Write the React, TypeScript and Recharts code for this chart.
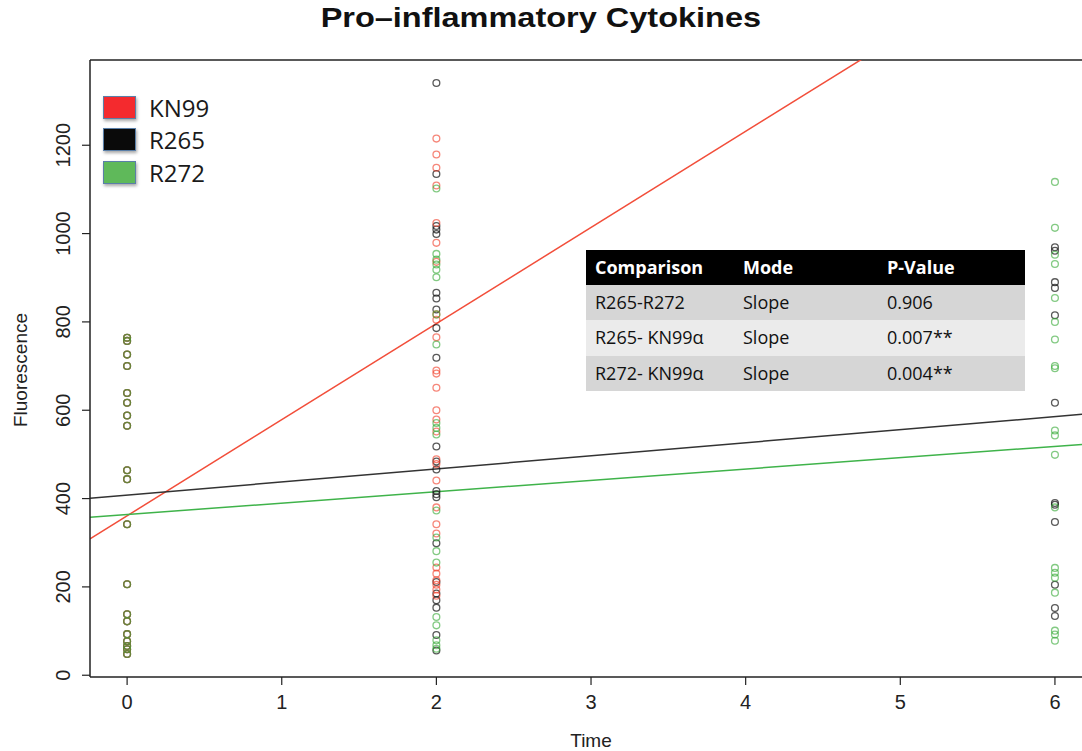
import React from 'react';
import { ReferenceLine, Scatter, ScatterChart, XAxis, YAxis } from 'recharts';

// strains, in legend order
const strains = ['KN99', 'R265', 'R272'];
const pointColors = ['rgba(240,62,40,0.62)', 'rgba(25,25,25,0.72)', 'rgba(55,170,55,0.62)'];
const lineColors = ['#f24e3a', '#333333', '#3fb34a'];
const legendColors = ['#f42a2e', '#0a0a0a', '#5fb95a'];
// drawing order: R265 underneath, then KN99, then R272
const drawOrder = [1, 0, 2];

// time 0 is the shared baseline for every strain
const baselineT0 = [764, 757, 726, 700, 639, 617, 588, 565, 464, 444, 342, 206, 138, 122, 93, 77, 66, 59, 48];

const kn99T2 = [
  1215, 1179, 1149, 1109, 1024, 979, 936, 817, 805, 765, 690, 683, 651, 600, 579, 552, 489, 478, 441, 380, 342,
  321, 244, 230, 215, 205, 194, 180,
];
const r265T2 = [1341, 1135, 1017, 1009, 999, 866, 853, 828, 786, 719, 518, 484, 466, 417, 410, 403, 299, 211, 185, 170, 153, 91, 56];
const r272T2 = [1102, 954, 941, 930, 918, 901, 817, 749, 571, 560, 545, 373, 312, 281, 255, 132, 113, 79, 68, 60];

const r265T6 = [969, 961, 890, 877, 815, 617, 390, 386, 347, 205, 152, 134];
const r272T6 = [1117, 1013, 952, 931, 854, 800, 760, 700, 695, 554, 543, 499, 380, 243, 232, 221, 187, 101, 92, 78];

// fitted lines
const fitIntercept = [361, 408, 364];
const fitSlope = [217.6, 29.6, 25.7];

const xTicks = [0, 1, 2, 3, 4, 5, 6];
const yTicks = [0, 200, 400, 600, 800, 1000, 1200];
const xDomain = [-0.24, 6.175];
const yDomain = [-4, 1393];

// p-value table
const tableHeader = ['Comparison', 'Mode', 'P-Value'];
const comparisons = ['R265-R272', 'R265- KN99\u03b1', 'R272- KN99\u03b1'];
const modes = ['Slope', 'Slope', 'Slope'];
const pValues = ['0.906', '0.007**', '0.004**'];

const pts = (t: number, values: number[]) => values.map((v) => ({ t, v }));

const seriesData = [
  [...pts(0, baselineT0), ...pts(2, kn99T2)],
  [...pts(0, baselineT0), ...pts(2, r265T2), ...pts(6, r265T6)],
  [...pts(0, baselineT0), ...pts(2, r272T2), ...pts(6, r272T6)],
];

const ring = (color: string) => (props: any) =>
  <circle cx={props.cx} cy={props.cy} r={3.4} fill="none" stroke={color} strokeWidth={1.3} />;

const YTick = (props: any) => {
  const { x, y, payload } = props;
  return (
    <text
      x={x}
      y={y}
      transform={`rotate(-90 ${x} ${y})`}
      textAnchor="middle"
      fontFamily="Liberation Sans, Arial, sans-serif"
      fontSize={20}
      fill="#222"
    >
      {payload.value}
    </text>
  );
};

const font = 'Liberation Sans, Arial, sans-serif';
const tableFont = '"Open Sans", "Noto Sans", sans-serif';
const colX = [9, 157, 301];
const rowBg = ['#d6d6d6', '#ebebeb', '#d6d6d6'];

const App: React.FC = () => {
  return (
    <div style={{ position: 'absolute', left: 0, top: 0, width: 1082, height: 751, background: '#fff' }}>
      <div style={{ position: 'absolute', left: 0, width: 1082, top: 2, textAlign: 'center' }}>
        <span
          style={{
            display: 'inline-block', transform: 'scaleX(1.16)', fontFamily: font, fontWeight: 'bold',
            fontSize: 28, color: '#111',
          }}
        >
          Pro–inflammatory Cytokines
        </span>
      </div>
      <ScatterChart width={1082} height={751} margin={{ top: 60, right: 0, bottom: 0, left: 30 }}>
        <XAxis
          type="number"
          dataKey="t"
          domain={xDomain}
          ticks={xTicks}
          allowDataOverflow
          height={74}
          tickSize={8}
          tickMargin={10}
          tick={{ fontFamily: font, fontSize: 20, fill: '#222' }}
          axisLine={{ stroke: '#222', strokeWidth: 1.5 }}
          tickLine={{ stroke: '#222', strokeWidth: 1.2 }}
        />
        <YAxis
          type="number"
          dataKey="v"
          domain={yDomain}
          ticks={yTicks}
          allowDataOverflow
          width={60}
          tickSize={8}
          tickMargin={12}
          tick={<YTick />}
          axisLine={{ stroke: '#222', strokeWidth: 1.5 }}
          tickLine={{ stroke: '#222', strokeWidth: 1.2 }}
        />
        <ReferenceLine y={yDomain[1]} stroke="#222" strokeWidth={1.5} ifOverflow="visible" />
        {drawOrder.map((i) => (
          <Scatter
            key={strains[i]}
            name={strains[i]}
            data={seriesData[i]}
            shape={ring(pointColors[i])}
            isAnimationActive={false}
          />
        ))}
        {strains.map((s, i) => (
          <ReferenceLine
            key={`fit-${s}`}
            segment={[
              { x: xDomain[0], y: fitIntercept[i] + fitSlope[i] * xDomain[0] },
              { x: xDomain[1], y: fitIntercept[i] + fitSlope[i] * xDomain[1] },
            ]}
            stroke={lineColors[i]}
            strokeWidth={1.5}
            ifOverflow="hidden"
          />
        ))}
      </ScatterChart>

      {/* axis titles */}
      <div
        style={{
          position: 'absolute', left: 21, top: 370, transform: 'translate(-50%, -50%) rotate(-90deg)',
          fontFamily: font, fontSize: 19, color: '#222', whiteSpace: 'nowrap',
        }}
      >
        Fluorescence
      </div>
      <div
        style={{
          position: 'absolute', left: 591, top: 741, transform: 'translate(-50%, -50%)',
          fontFamily: font, fontSize: 19, color: '#222',
        }}
      >
        Time
      </div>

      {/* legend */}
      <div style={{ position: 'absolute', left: 103, top: 91 }}>
        {strains.map((s, i) => (
          <div key={s} style={{ display: 'flex', alignItems: 'center', height: 32.5 }}>
            <div
              style={{
                width: 31, height: 21, background: legendColors[i], border: '1px solid #5a7fa8',
                boxShadow: '1px 2px 3px rgba(0,0,0,0.35)', marginRight: 13,
              }}
            />
            <span style={{ fontFamily: tableFont, fontSize: 24, color: '#1a1a1a' }}>{s}</span>
          </div>
        ))}
      </div>

      {/* comparison table */}
      <div style={{ position: 'absolute', left: 586, top: 250, width: 439, fontFamily: tableFont, fontSize: 18 }}>
        <div style={{ position: 'relative', height: 35, background: '#000', color: '#fff', fontWeight: 'bold' }}>
          {tableHeader.map((h, j) => (
            <span key={h} style={{ position: 'absolute', left: colX[j], top: 5 }}>{h}</span>
          ))}
        </div>
        {comparisons.map((c, r) => (
          <div key={c} style={{ position: 'relative', height: 35.3, background: rowBg[r], color: '#111' }}>
            {[c, modes[r], pValues[r]].map((cell, j) => (
              <span key={j} style={{ position: 'absolute', left: colX[j], top: 5 }}>{cell}</span>
            ))}
          </div>
        ))}
      </div>
    </div>
  );
};

export default App;
